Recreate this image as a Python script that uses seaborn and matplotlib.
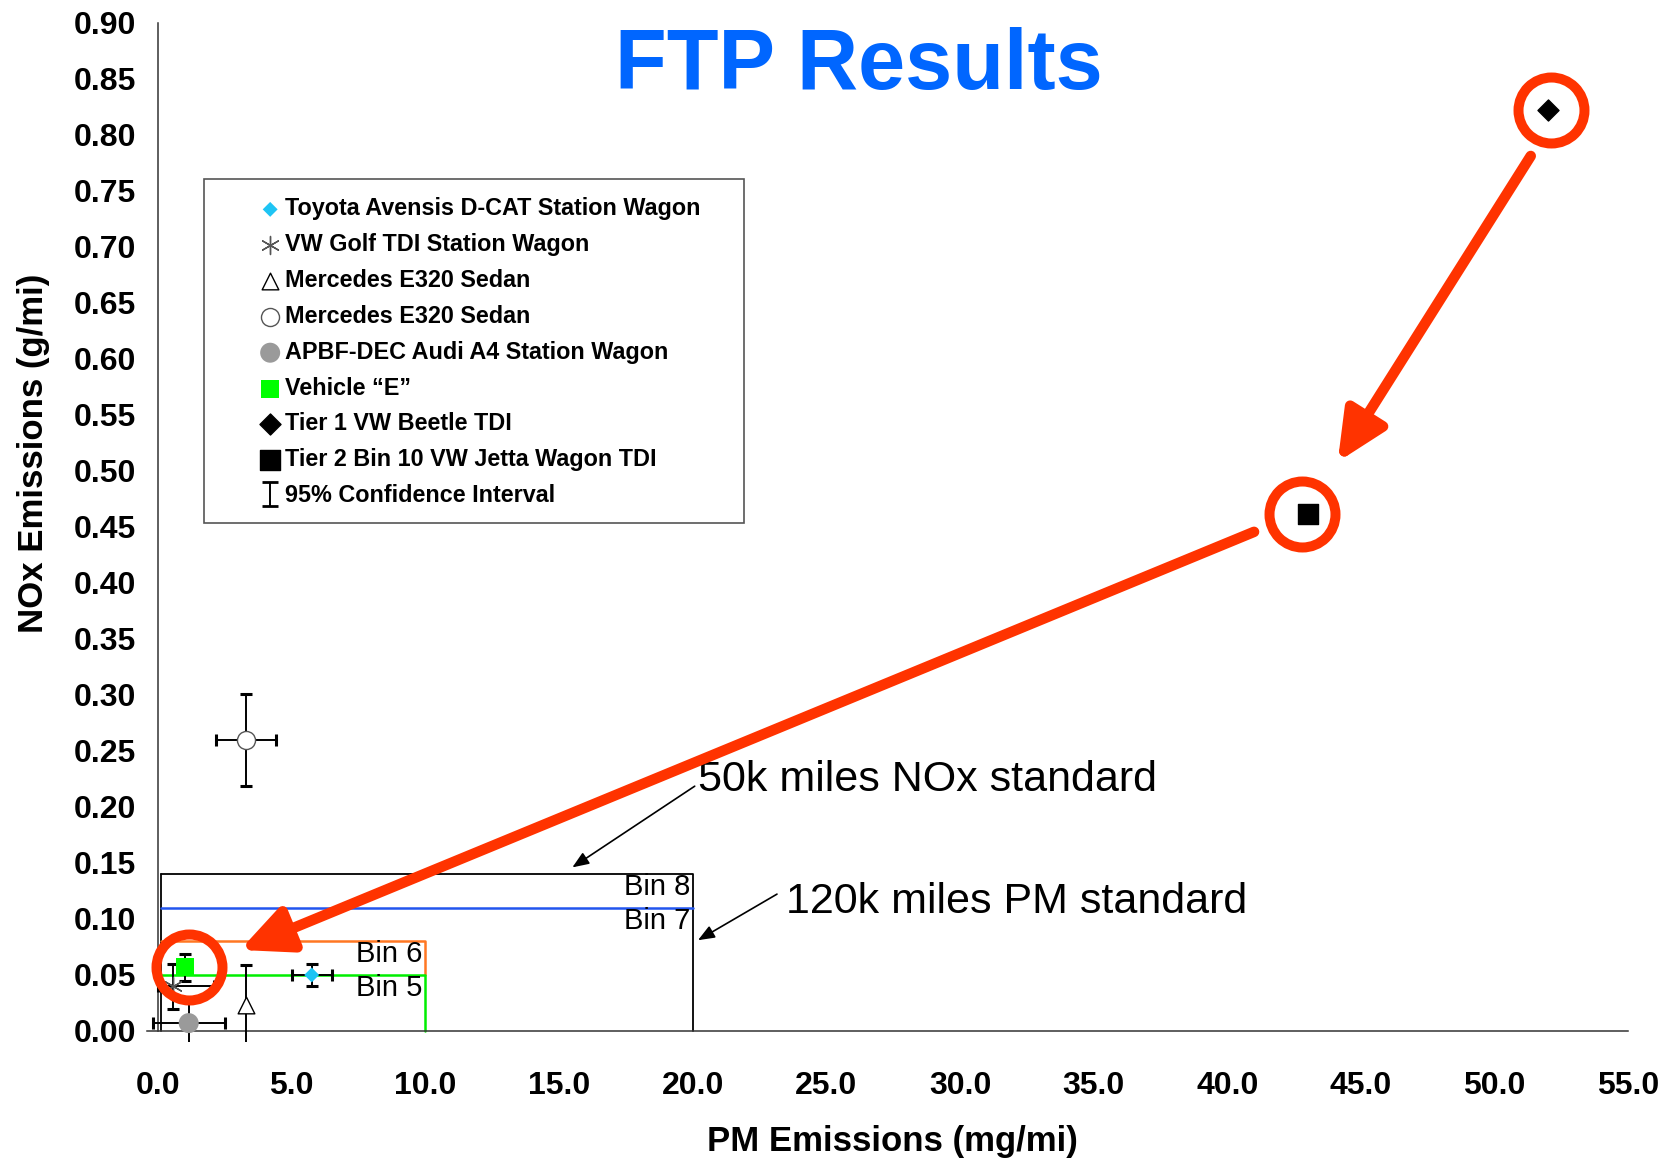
import matplotlib
matplotlib.use("Agg")
import matplotlib.pyplot as plt
import seaborn as sns
import pandas as pd
from matplotlib.ticker import MultipleLocator, FormatStrFormatter
from matplotlib.patches import Rectangle

# ---------------- data ----------------
vehicles = ["Toyota Avensis D-CAT Station Wagon", "VW Golf TDI Station Wagon",
            "Mercedes E320 Sedan", "Mercedes E320 Sedan",
            "APBF-DEC Audi A4 Station Wagon", "Vehicle \u201cE\u201d",
            "Tier 1 VW Beetle TDI", "Tier 2 Bin 10 VW Jetta Wagon TDI"]
pm_mg = [5.75, 0.55, 3.3, 3.3, 1.15, 1.0, 52.0, 43.0]
nox_g = [0.050, 0.040, 0.023, 0.260, 0.007, 0.057, 0.822, 0.461]
pm_err_lo = [0.75, 0.55, 0.0, 1.12, 1.34, 0.0, 0.0, 0.0]
pm_err_hi = [0.75, 1.55, 0.0, 1.12, 1.34, 0.0, 0.0, 0.0]
nox_err = [0.010, 0.020, 0.036, 0.041, 0.022, 0.012, 0.0, 0.0]

bin_names = ["Bin 8", "Bin 7", "Bin 6", "Bin 5"]
bin_nox = [0.14, 0.11, 0.08, 0.05]
bin_pm = [20.0, 20.0, 10.0, 10.0]

# ---------------- style ----------------
sns.set_style("white")
plt.rcParams["font.family"] = ["Liberation Sans", "DejaVu Sans"]
plt.rcParams["font.weight"] = "bold"
plt.rcParams["text.color"] = "black"
plt.rcParams["axes.labelcolor"] = "black"
plt.rcParams["axes.labelweight"] = "bold"

markers = ["D", (6, 2, 0), "^", "o", "o", "s", "D", "s"]
faces = ["#1EC4F4", "#555555", "white", "white", "#9A9A9A", "#00FF00", "black", "black"]
edges = ["none", None, "black", "#555555", "none", "none", "black", "black"]
msz = [7.6, 13, 12, 13, 14.4, 13, 10.7, 14]
RED = "#FF3300"

fig = plt.figure(figsize=(16.68, 11.63), dpi=100)
ax = fig.add_axes([0.0883, 0.1039, 0.8879, 0.8766])
ax.set_xlim(-0.4, 55.0)
ax.set_ylim(-0.01, 0.9)

for s in ["top", "right"]:
    ax.spines[s].set_visible(False)
ax.spines["left"].set_position(("data", 0))
ax.spines["bottom"].set_position(("data", 0))
ax.spines["left"].set_bounds(0, 0.9)
for s in ["left", "bottom"]:
    ax.spines[s].set_color("#333333")
    ax.spines[s].set_linewidth(1.1)

ax.xaxis.set_major_locator(MultipleLocator(5))
ax.xaxis.set_minor_locator(MultipleLocator(1))
ax.yaxis.set_major_locator(MultipleLocator(0.05))
ax.yaxis.set_minor_locator(MultipleLocator(0.01))
ax.xaxis.set_major_formatter(FormatStrFormatter("%.1f"))
ax.yaxis.set_major_formatter(FormatStrFormatter("%.2f"))
ax.tick_params(which="major", direction="inout", length=16, width=1.0,
               color="#444444", labelsize=23, labelcolor="black")
ax.tick_params(which="minor", direction="out", length=6.5, width=1.0, color="#333333")
ax.tick_params(axis="x", which="major", pad=21)
ax.tick_params(axis="y", which="major", pad=8)

# standards boxes
ax.plot([0.1, 20, 20], [0.14, 0.14, 0.0], color="black", lw=1.3, zorder=2)
ax.plot([0.1, 0.1], [0.0, 0.14], color="black", lw=1.3, zorder=2)
ax.plot([0.1, 20], [0.11, 0.11], color="#2255EE", lw=1.8, zorder=2)
ax.plot([0.1, 10, 10], [0.08, 0.08, 0.05], color="#FF7722", lw=1.8, zorder=2)
ax.plot([0.1, 10, 10], [0.05, 0.05, 0.0], color="#00EE00", lw=1.8, zorder=2)
for name, yv, xv in zip(bin_names, bin_nox, bin_pm):
    ax.text(xv - 0.1, yv - 0.0115, name, ha="right", va="center",
            fontsize=21, fontweight="normal", color="black", zorder=3)

# error bars
for i in range(len(vehicles)):
    if nox_err[i] > 0 or pm_err_hi[i] > 0:
        ax.errorbar([pm_mg[i]], [nox_g[i]],
                    xerr=[[pm_err_lo[i]], [pm_err_hi[i]]] if pm_err_hi[i] > 0 else None,
                    yerr=[[nox_err[i]], [nox_err[i]]] if nox_err[i] > 0 else None,
                    fmt="none", ecolor="black", elinewidth=1.4, capsize=4,
                    capthick=2.2, zorder=3)

# points
df = pd.DataFrame({"pm": pm_mg, "nox": nox_g, "vehicle": vehicles})
for i in range(len(df)):
    kw = dict(marker=markers[i], s=msz[i] ** 2, color=faces[i], zorder=5, linewidth=1.0)
    kw["edgecolor"] = edges[i]
    sns.scatterplot(x=df["pm"].iloc[[i]], y=df["nox"].iloc[[i]], label=df["vehicle"].iloc[i],
                    ax=ax, legend=False, **kw)

ci = ax.errorbar([float("nan")], [float("nan")], yerr=[0.01], fmt="none", ecolor="black",
                 elinewidth=1.4, capsize=6, capthick=2.0, label="95% Confidence Interval")

handles = [c for c in ax.collections if c.get_label() in vehicles]
labels = [h.get_label() for h in handles]
handles.append(ci)
labels.append("95% Confidence Interval")
leg = fig.legend(handles, labels, loc="upper left",
                 bbox_to_anchor=(258.5 / 1668, 1 - 197.5 / 1163),
                 frameon=False, fontsize=16.8, borderpad=0, borderaxespad=0,
                 handlelength=1.0, handletextpad=0.15, labelspacing=0.55,
                 scatterpoints=1)
fig.patches.append(Rectangle((204 / 1668, 1 - 523 / 1163), 540 / 1668, 344 / 1163,
                             transform=fig.transFigure, fill=False,
                             edgecolor="#555555", lw=1.2))

# red highlight rings
ring_dx = {5: 0.15, 6: 0.12, 7: -0.2}
for i, dx in ring_dx.items():
    ax.plot([pm_mg[i] + dx], [nox_g[i]], "o", ms=47.5, mfc="none", mec=RED,
            mew=7.2, zorder=6, clip_on=False)

# red arrows
ax.annotate("", xy=(44.13, 0.508), xytext=(51.35, 0.781),
            arrowprops=dict(arrowstyle="-|>,head_length=30,head_width=14",
                            mutation_scale=1, lw=7.6, color=RED,
                            shrinkA=0, shrinkB=0), zorder=6)
ax.annotate("", xy=(3.07, 0.0723), xytext=(41.0, 0.4455),
            arrowprops=dict(arrowstyle="-|>,head_length=30,head_width=14",
                            mutation_scale=1, lw=7.6, color=RED,
                            shrinkA=0, shrinkB=0), zorder=6)

# standards annotations
ax.annotate("50k miles NOx standard", xy=(15.5, 0.146), xytext=(20.2, 0.224),
            ha="left", va="center", fontsize=31, fontweight="normal", color="black",
            arrowprops=dict(arrowstyle="-|>,head_length=10,head_width=4",
                            mutation_scale=1, lw=1.2, color="black",
                            shrinkA=0, shrinkB=0, relpos=(0, 0.4)), zorder=4)
ax.annotate("120k miles PM standard", xy=(20.2, 0.081), xytext=(23.5, 0.115),
            ha="left", va="center", fontsize=31, fontweight="normal", color="black",
            arrowprops=dict(arrowstyle="-|>,head_length=10,head_width=4",
                            mutation_scale=1, lw=1.2, color="black",
                            shrinkA=0, shrinkB=0, relpos=(-0.02, 0.7)), zorder=4)

# labels & title
ax.set_xlabel("PM Emissions (mg/mi)", fontsize=25, fontweight="bold", color="black",
              va="center")
ax.set_ylabel("NOx Emissions (g/mi)", fontsize=25, fontweight="bold", color="black")
ax.xaxis.set_label_coords(892.5 / 1668, 1 - 1141 / 1163, transform=fig.transFigure)
ax.yaxis.set_label_coords(-0.066, 0.578)
fig.text(859 / 1668, 1 - 88.5 / 1163, "FTP Results", ha="center", va="baseline",
         fontsize=61, fontweight="bold", color="#0066FF")

fig.savefig("out.png", dpi=100)
